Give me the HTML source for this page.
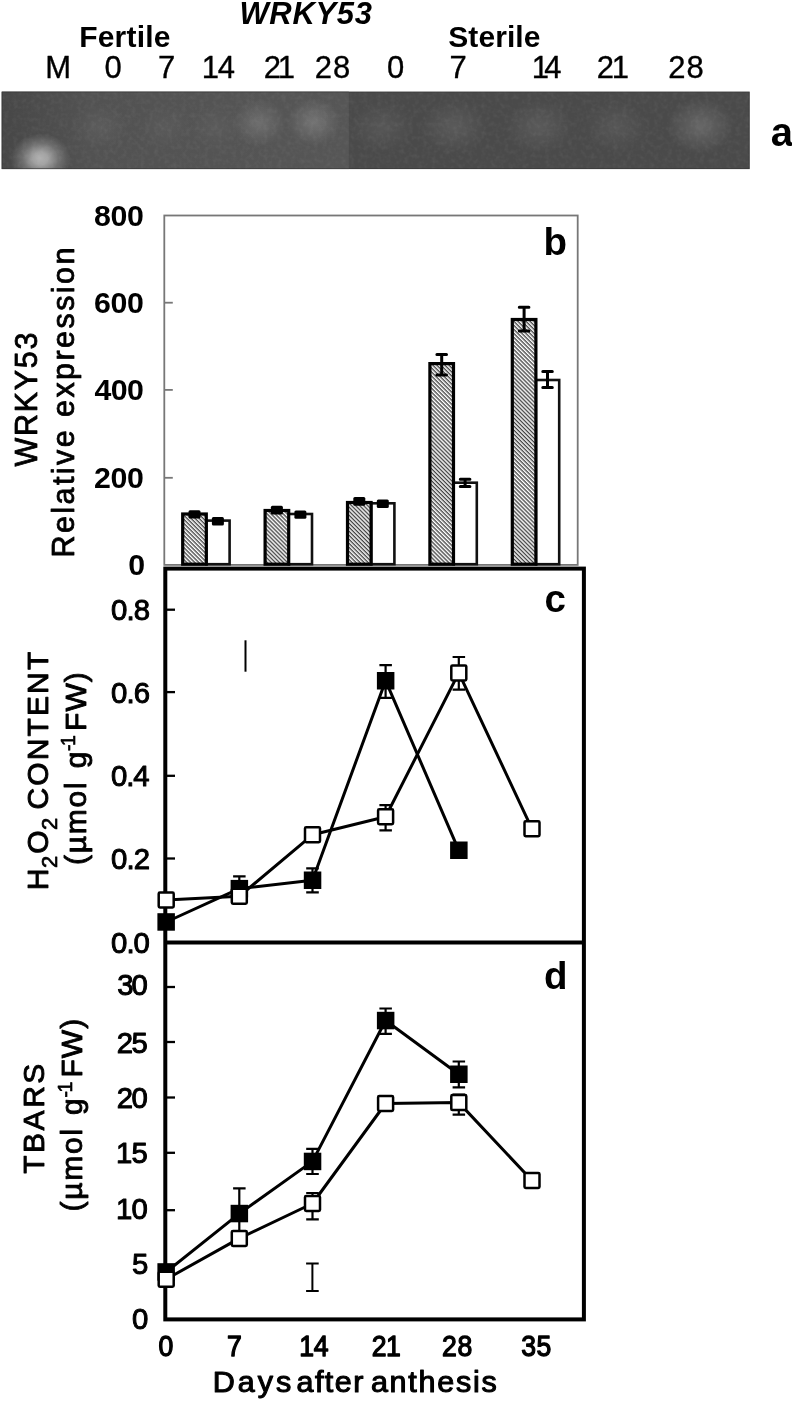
<!DOCTYPE html>
<html lang="en"><head><meta charset="utf-8"><title>WRKY53 figure</title>
<style>
html,body{margin:0;padding:0;background:#fff}
svg{display:block}
text{font-family:"Liberation Sans",Arial,Helvetica,sans-serif;white-space:pre}
</style></head><body>
<svg width="792" height="1401" viewBox="0 0 792 1401">
<defs>
<pattern id="hatch" width="2.85" height="2.85" patternUnits="userSpaceOnUse" patternTransform="rotate(45)">
<rect width="2.85" height="2.85" fill="#fff"/><rect width="2.85" height="1.35" fill="#444"/></pattern>
<radialGradient id="gM"><stop offset="0" stop-color="#fff" stop-opacity=".56"/><stop offset=".25" stop-color="#fff" stop-opacity=".48"/><stop offset=".6" stop-color="#fff" stop-opacity=".2"/><stop offset="1" stop-color="#fff" stop-opacity="0"/></radialGradient>
<radialGradient id="gS"><stop offset="0" stop-color="#fff" stop-opacity="1"/><stop offset=".5" stop-color="#fff" stop-opacity=".5"/><stop offset="1" stop-color="#fff" stop-opacity="0"/></radialGradient>
<linearGradient id="gL" x1="0" x2="1" y1="0" y2="0"><stop offset="0" stop-color="#474747"/><stop offset=".25" stop-color="#525252"/><stop offset="1" stop-color="#565656"/></linearGradient>
<filter id="noise" x="0" y="0" width="100%" height="100%"><feTurbulence type="fractalNoise" baseFrequency="0.22" numOctaves="2" seed="3" result="n"/>
<feColorMatrix in="n" type="matrix" values="0 0 0 0 1  0 0 0 0 1  0 0 0 0 1  1.8 0 0 0 -.7"/></filter>
<clipPath id="gelclip"><rect x="1.5" y="91.4" width="748.3" height="77.8"/></clipPath>
</defs>
<g clip-path="url(#gelclip)">
<rect x="1.5" y="91.4" width="748.3" height="77.8" fill="#4a4a4a"/>
<rect x="1.5" y="91.4" width="347.3" height="77.8" fill="url(#gL)"/>
<ellipse cx="40.5" cy="158.5" rx="30" ry="25" fill="url(#gM)" opacity="1"/>
<ellipse cx="100" cy="127" rx="28" ry="23" fill="url(#gS)" opacity="0.055"/>
<ellipse cx="165" cy="127" rx="26" ry="22" fill="url(#gS)" opacity="0.04"/>
<ellipse cx="215" cy="127" rx="26" ry="22" fill="url(#gS)" opacity="0.04"/>
<ellipse cx="259" cy="123" rx="27" ry="24" fill="url(#gS)" opacity="0.15"/>
<ellipse cx="314" cy="122" rx="27" ry="24" fill="url(#gS)" opacity="0.18"/>
<ellipse cx="382" cy="127" rx="32" ry="26" fill="url(#gS)" opacity="0.07"/>
<ellipse cx="454" cy="127" rx="34" ry="27" fill="url(#gS)" opacity="0.09"/>
<ellipse cx="539" cy="127" rx="34" ry="27" fill="url(#gS)" opacity="0.09"/>
<ellipse cx="616" cy="127" rx="32" ry="26" fill="url(#gS)" opacity="0.07"/>
<ellipse cx="700.5" cy="126" rx="34" ry="28" fill="url(#gS)" opacity="0.16"/>
<rect x="1.5" y="91.4" width="748.3" height="77.8" fill="#fff" filter="url(#noise)" opacity=".06"/>
<rect x="2" y="91.9" width="747.3" height="76.8" fill="none" stroke="#333" stroke-opacity=".6" stroke-width="1.2"/>
</g>
<text x="239.45" y="23.50" font-size="31" font-weight="bold" font-style="italic" letter-spacing="0.670">WRKY53</text>
<text x="79.20" y="46.70" font-size="30" font-weight="bold" letter-spacing="0.196">Fertile</text>
<text x="448.25" y="46.50" font-size="30" font-weight="bold" letter-spacing="0.083">Sterile</text>
<text x="45.21" y="78.20" font-size="31" stroke="#000" stroke-width="0.35" stroke-linejoin="round">M</text>
<text x="104.47" y="78.20" font-size="31" stroke="#000" stroke-width="0.35" stroke-linejoin="round">0</text>
<text x="158.07" y="78.20" font-size="31" stroke="#000" stroke-width="0.35" stroke-linejoin="round">7</text>
<text x="201.65" y="78.20" font-size="31" letter-spacing="-1.075" stroke="#000" stroke-width="0.35" stroke-linejoin="round">14</text>
<text x="263.80" y="78.20" font-size="31" letter-spacing="-3.300" stroke="#000" stroke-width="0.35" stroke-linejoin="round">21</text>
<text x="314.80" y="78.20" font-size="31" letter-spacing="1.050" stroke="#000" stroke-width="0.35" stroke-linejoin="round">28</text>
<text x="386.88" y="78.20" font-size="31" stroke="#000" stroke-width="0.35" stroke-linejoin="round">0</text>
<text x="449.38" y="78.20" font-size="31" stroke="#000" stroke-width="0.35" stroke-linejoin="round">7</text>
<text x="531.85" y="78.20" font-size="31" letter-spacing="-4.775" stroke="#000" stroke-width="0.35" stroke-linejoin="round">14</text>
<text x="596.80" y="78.20" font-size="31" letter-spacing="-2.200" stroke="#000" stroke-width="0.35" stroke-linejoin="round">21</text>
<text x="668.20" y="78.20" font-size="31" letter-spacing="1.150" stroke="#000" stroke-width="0.35" stroke-linejoin="round">28</text>
<text x="770.74" y="146.20" font-size="40" font-weight="bold">a</text>
<text x="543.45" y="255.00" font-size="38.5" font-weight="bold">b</text>
<text x="544.56" y="611.90" font-size="38.5" font-weight="bold">c</text>
<text x="543.95" y="988.60" font-size="38.5" font-weight="bold">d</text>
<rect x="164.3" y="215.5" width="413.40000000000003" height="349.4" fill="none" stroke="#777" stroke-width="1.8"/>
<line x1="164.3" x2="172.8" y1="302.7" y2="302.7" stroke="#777" stroke-width="1.8"/>
<line x1="164.3" x2="172.8" y1="389.9" y2="389.9" stroke="#777" stroke-width="1.8"/>
<line x1="164.3" x2="172.8" y1="477.8" y2="477.8" stroke="#777" stroke-width="1.8"/>
<rect x="206.3" y="520.6" width="23.3" height="43.6" fill="#fff" stroke="#111" stroke-width="2.6"/>
<rect x="182.7" y="514" width="23.6" height="50.2" fill="url(#hatch)" stroke="#000" stroke-width="3.2"/>
<rect x="188.5" y="510.2" width="12" height="8.4" rx="1.5" fill="#000"/>
<rect x="211.9" y="517" width="12" height="8.4" rx="1.5" fill="#000"/>
<rect x="288.7" y="514" width="23.3" height="50.2" fill="#fff" stroke="#111" stroke-width="2.6"/>
<rect x="265.1" y="510.5" width="23.6" height="53.7" fill="url(#hatch)" stroke="#000" stroke-width="3.2"/>
<rect x="270.9" y="505.8" width="12" height="8.6" rx="1.5" fill="#000"/>
<rect x="294.4" y="510.5" width="12" height="8.3" rx="1.5" fill="#000"/>
<rect x="371.1" y="503.3" width="23.3" height="60.9" fill="#fff" stroke="#111" stroke-width="2.6"/>
<rect x="347.5" y="502.5" width="23.6" height="61.7" fill="url(#hatch)" stroke="#000" stroke-width="3.2"/>
<rect x="353.3" y="497" width="12" height="8.8" rx="1.5" fill="#000"/>
<rect x="376.8" y="499.5" width="12" height="8.5" rx="1.5" fill="#000"/>
<rect x="453.5" y="482.7" width="23.3" height="81.5" fill="#fff" stroke="#111" stroke-width="2.6"/>
<rect x="429.9" y="363.6" width="23.6" height="200.6" fill="url(#hatch)" stroke="#000" stroke-width="3.2"/>
<path d="M436.9 354.6H446.5M436.9 375H446.5M441.7 354.6V375" stroke="#000" stroke-width="3" stroke-linecap="round" fill="none"/>
<path d="M460.3 479.2H469.9M460.3 486.4H469.9M465.1 479.2V486.4" stroke="#000" stroke-width="3" stroke-linecap="round" fill="none"/>
<rect x="535.9" y="380" width="23.3" height="184.2" fill="#fff" stroke="#111" stroke-width="2.6"/>
<rect x="512.3" y="319.5" width="23.6" height="244.7" fill="url(#hatch)" stroke="#000" stroke-width="3.2"/>
<path d="M519.3 307.3H528.9M519.3 331H528.9M524.1 307.3V331" stroke="#000" stroke-width="3" stroke-linecap="round" fill="none"/>
<path d="M542.8 371.5H552.3M542.8 387.5H552.3M547.5 371.5V387.5" stroke="#000" stroke-width="3" stroke-linecap="round" fill="none"/>
<text x="94.12" y="226.10" font-size="30.3" font-weight="bold" letter-spacing="-0.388">800</text>
<text x="94.00" y="313.30" font-size="30.3" font-weight="bold" letter-spacing="-0.325">600</text>
<text x="94.62" y="400.20" font-size="30.3" font-weight="bold" letter-spacing="-0.638">400</text>
<text x="94.00" y="487.50" font-size="30.3" font-weight="bold" letter-spacing="-0.325">200</text>
<text x="128.18" y="574.50" font-size="30.3" font-weight="bold">0</text>
<text transform="translate(37.30,466.43) rotate(-90)" font-size="30.5" letter-spacing="1.700" stroke="#000" stroke-width="0.8" stroke-linejoin="round">WRKY53</text>
<text transform="translate(74.30,557.50) rotate(-90)" font-size="30.5" letter-spacing="2.431" stroke="#000" stroke-width="0.8" stroke-linejoin="round">Relative expression</text>
<rect x="165.3" y="568.6" width="418.59999999999997" height="750.8000000000001" fill="none" stroke="#000" stroke-width="4"/>
<line x1="165.3" x2="583.9" y1="942.4" y2="942.4" stroke="#000" stroke-width="4"/>
<line x1="165.3" x2="175" y1="609.7" y2="609.7" stroke="#000" stroke-width="2.3"/>
<line x1="165.3" x2="175" y1="692.1" y2="692.1" stroke="#000" stroke-width="2.3"/>
<line x1="165.3" x2="175" y1="775.8" y2="775.8" stroke="#000" stroke-width="2.3"/>
<line x1="165.3" x2="175" y1="858.5" y2="858.5" stroke="#000" stroke-width="2.3"/>
<line x1="165.3" x2="175" y1="987.0" y2="987.0" stroke="#000" stroke-width="2.3"/>
<line x1="165.3" x2="175" y1="1042.0" y2="1042.0" stroke="#000" stroke-width="2.3"/>
<line x1="165.3" x2="175" y1="1097.5" y2="1097.5" stroke="#000" stroke-width="2.3"/>
<line x1="165.3" x2="175" y1="1152.8" y2="1152.8" stroke="#000" stroke-width="2.3"/>
<line x1="165.3" x2="175" y1="1210.2" y2="1210.2" stroke="#000" stroke-width="2.3"/>
<line x1="165.3" x2="175" y1="1265.0" y2="1265.0" stroke="#000" stroke-width="2.3"/>
<text x="111.08" y="619.90" font-size="29.3" letter-spacing="-0.925" stroke="#000" stroke-width="1.0" stroke-linejoin="round">0.8</text>
<text x="111.08" y="702.90" font-size="29.3" letter-spacing="-0.925" stroke="#000" stroke-width="1.0" stroke-linejoin="round">0.6</text>
<text x="111.08" y="786.00" font-size="29.3" letter-spacing="-1.175" stroke="#000" stroke-width="1.0" stroke-linejoin="round">0.4</text>
<text x="111.08" y="868.70" font-size="29.3" letter-spacing="-0.863" stroke="#000" stroke-width="1.0" stroke-linejoin="round">0.2</text>
<text x="111.08" y="952.70" font-size="29.3" letter-spacing="-0.988" stroke="#000" stroke-width="1.0" stroke-linejoin="round">0.0</text>
<text x="117.20" y="995.40" font-size="29.3" letter-spacing="-1.975" stroke="#000" stroke-width="1.0" stroke-linejoin="round">30</text>
<text x="116.83" y="1052.80" font-size="29.3" letter-spacing="-1.600" stroke="#000" stroke-width="1.0" stroke-linejoin="round">25</text>
<text x="116.83" y="1108.30" font-size="29.3" letter-spacing="-1.600" stroke="#000" stroke-width="1.0" stroke-linejoin="round">20</text>
<text x="116.08" y="1162.90" font-size="29.3" letter-spacing="-0.850" stroke="#000" stroke-width="1.0" stroke-linejoin="round">15</text>
<text x="116.08" y="1218.90" font-size="29.3" letter-spacing="-0.850" stroke="#000" stroke-width="1.0" stroke-linejoin="round">10</text>
<text x="132.07" y="1273.90" font-size="29.3" stroke="#000" stroke-width="1.0" stroke-linejoin="round">5</text>
<text x="132.07" y="1329.30" font-size="29.3" stroke="#000" stroke-width="1.0" stroke-linejoin="round">0</text>
<text transform="translate(158.52,1355.70) scale(0.93,1)" font-size="28.6" stroke="#000" stroke-width="1.3" stroke-linejoin="round">0</text>
<text transform="translate(226.97,1355.70) scale(0.93,1)" font-size="28.6" stroke="#000" stroke-width="1.3" stroke-linejoin="round">7</text>
<text transform="translate(299.32,1355.70) scale(0.93,1)" font-size="28.6" letter-spacing="-0.488" stroke="#000" stroke-width="1.3" stroke-linejoin="round">14</text>
<text transform="translate(371.72,1355.70) scale(0.93,1)" font-size="28.6" letter-spacing="-0.523" stroke="#000" stroke-width="1.3" stroke-linejoin="round">21</text>
<text transform="translate(442.12,1355.70) scale(0.93,1)" font-size="28.6" letter-spacing="0.642" stroke="#000" stroke-width="1.3" stroke-linejoin="round">28</text>
<text transform="translate(521.37,1355.70) scale(0.93,1)" font-size="28.6" letter-spacing="0.267" stroke="#000" stroke-width="1.3" stroke-linejoin="round">35</text>
<text transform="scale(1.06,1)" stroke="#000" stroke-linejoin="round"><tspan x="200.77" y="1392.20" font-size="28.8" stroke-width="1.05" letter-spacing="2.835">Days </tspan><tspan x="279.63" y="1392.20" font-size="28.8" stroke-width="1.05" letter-spacing="1.425">after </tspan><tspan x="349.91" y="1392.20" font-size="28.8" stroke-width="1.05" letter-spacing="1.658">anthesis</tspan></text>
<path d="M233.1 876.4H245.6M233.1 895H245.6M239.3 876.4V895" stroke="#000" stroke-width="2.2" fill="none"/>
<path d="M306.2 868.4H318.8M306.2 892.4H318.8M312.5 868.4V892.4" stroke="#000" stroke-width="2.2" fill="none"/>
<path d="M379.4 665.2H391.9M379.4 697.9H391.9M385.6 665.2V697.9" stroke="#000" stroke-width="2.2" fill="none"/>
<path d="M379.4 805.2H391.9M379.4 830.4H391.9M385.6 805.2V830.4" stroke="#000" stroke-width="2.2" fill="none"/>
<path d="M452.6 657H465.1M452.6 689.7H465.1M458.8 657V689.7" stroke="#000" stroke-width="2.2" fill="none"/>
<path d="M166.2 922.0L239.3 888.6L312.5 880.2L385.6 680.7L458.8 850.3" fill="none" stroke="#000" stroke-width="3" stroke-linejoin="round"/>
<path d="M166.2 900.0L239.3 896.3L312.5 834.8L385.6 816.8L458.8 672.9L532.0 828.8" fill="none" stroke="#000" stroke-width="3" stroke-linejoin="round"/>
<rect x="157.4" y="913.2" width="17.5" height="17.5" fill="#000"/>
<rect x="230.6" y="879.9" width="17.5" height="17.5" fill="#000"/>
<rect x="303.8" y="871.5" width="17.5" height="17.5" fill="#000"/>
<rect x="376.9" y="672.0" width="17.5" height="17.5" fill="#000"/>
<rect x="450.1" y="841.5" width="17.5" height="17.5" fill="#000"/>
<rect x="158.7" y="892.5" width="15" height="15" rx="1.2" fill="#fff" stroke="#000" stroke-width="2.5"/>
<rect x="231.8" y="888.8" width="15" height="15" rx="1.2" fill="#fff" stroke="#000" stroke-width="2.5"/>
<rect x="305.0" y="827.3" width="15" height="15" rx="1.2" fill="#fff" stroke="#000" stroke-width="2.5"/>
<rect x="378.1" y="809.3" width="15" height="15" rx="1.2" fill="#fff" stroke="#000" stroke-width="2.5"/>
<rect x="451.3" y="665.4" width="15" height="15" rx="1.2" fill="#fff" stroke="#000" stroke-width="2.5"/>
<rect x="524.5" y="821.3" width="15" height="15" rx="1.2" fill="#fff" stroke="#000" stroke-width="2.5"/>
<line x1="245.5" x2="245.5" y1="640.3" y2="671.7" stroke="#000" stroke-width="2"/>
<path d="M233.1 1188.4H245.6M233.1 1238H245.6M239.3 1188.4V1238" stroke="#000" stroke-width="2.2" fill="none"/>
<path d="M306.2 1148.8H318.8M306.2 1174H318.8M312.5 1148.8V1174" stroke="#000" stroke-width="2.2" fill="none"/>
<path d="M306.2 1193H318.8M306.2 1219.4H318.8M312.5 1193V1219.4" stroke="#000" stroke-width="2.2" fill="none"/>
<path d="M379.4 1008.5H391.9M379.4 1033.8H391.9M385.6 1008.5V1033.8" stroke="#000" stroke-width="2.2" fill="none"/>
<path d="M452.6 1061.5H465.1M452.6 1087.4H465.1M458.8 1061.5V1087.4" stroke="#000" stroke-width="2.2" fill="none"/>
<path d="M452.6 1094.7H465.1M452.6 1114.6H465.1M458.8 1094.7V1114.6" stroke="#000" stroke-width="2.2" fill="none"/>
<path d="M166.2 1272.0L239.3 1213.6L312.5 1161.4L385.6 1020.5L458.8 1074.2" fill="none" stroke="#000" stroke-width="3" stroke-linejoin="round"/>
<path d="M166.2 1279.2L239.3 1238.4L312.5 1203.5L385.6 1103.5L458.8 1102.6L532.0 1180.5" fill="none" stroke="#000" stroke-width="3" stroke-linejoin="round"/>
<rect x="157.4" y="1263.2" width="17.5" height="17.5" fill="#000"/>
<rect x="230.6" y="1204.8" width="17.5" height="17.5" fill="#000"/>
<rect x="303.8" y="1152.7" width="17.5" height="17.5" fill="#000"/>
<rect x="376.9" y="1011.8" width="17.5" height="17.5" fill="#000"/>
<rect x="450.1" y="1065.5" width="17.5" height="17.5" fill="#000"/>
<rect x="158.7" y="1271.7" width="15" height="15" rx="1.2" fill="#fff" stroke="#000" stroke-width="2.5"/>
<rect x="231.8" y="1230.9" width="15" height="15" rx="1.2" fill="#fff" stroke="#000" stroke-width="2.5"/>
<rect x="305.0" y="1196.0" width="15" height="15" rx="1.2" fill="#fff" stroke="#000" stroke-width="2.5"/>
<rect x="378.1" y="1096.0" width="15" height="15" rx="1.2" fill="#fff" stroke="#000" stroke-width="2.5"/>
<rect x="451.3" y="1095.1" width="15" height="15" rx="1.2" fill="#fff" stroke="#000" stroke-width="2.5"/>
<rect x="524.5" y="1173.0" width="15" height="15" rx="1.2" fill="#fff" stroke="#000" stroke-width="2.5"/>
<path d="M306.1 1263.6H318.7M306.1 1290.9H318.7M312.4 1263.6V1290.9" stroke="#000" stroke-width="2" fill="none"/>
<text transform="rotate(-90)" stroke="#000" stroke-linejoin="round"><tspan x="-890.21" y="48.20" font-size="30" stroke-width="0.9">H</tspan><tspan x="-867.92" y="56.80" font-size="22" stroke-width="0.7">2</tspan><tspan x="-853.84" y="48.20" font-size="30" stroke-width="0.9">O</tspan><tspan x="-830.12" y="56.80" font-size="22" stroke-width="0.7">2 </tspan><tspan x="-809.50" y="48.20" font-size="30" stroke-width="0.9" letter-spacing="2.121">CONTENT</tspan></text>
<text transform="rotate(-90)" stroke="#000" stroke-linejoin="round"><tspan x="-864.95" y="85.60" font-size="30" stroke-width="0.9" letter-spacing="1.750">(µmol </tspan><tspan x="-768.35" y="85.60" font-size="30" stroke-width="0.9">g</tspan><tspan x="-750.95" y="75.20" font-size="19.5" stroke-width="0.7" letter-spacing="-1.550">-1</tspan><tspan x="-730.88" y="85.60" font-size="30" stroke-width="0.9" letter-spacing="1.000">FW)</tspan></text>
<text transform="translate(44.10,1173.83) rotate(-90)" font-size="30" letter-spacing="2.544" stroke="#000" stroke-width="0.9" stroke-linejoin="round">TBARS</text>
<text transform="rotate(-90)" stroke="#000" stroke-linejoin="round"><tspan x="-1211.55" y="82.20" font-size="30" stroke-width="0.9" letter-spacing="1.750">(µmol </tspan><tspan x="-1114.95" y="82.20" font-size="30" stroke-width="0.9">g</tspan><tspan x="-1097.55" y="71.80" font-size="19.5" stroke-width="0.7" letter-spacing="-1.550">-1</tspan><tspan x="-1077.47" y="82.20" font-size="30" stroke-width="0.9" letter-spacing="1.000">FW)</tspan></text>
</svg>
</body></html>
